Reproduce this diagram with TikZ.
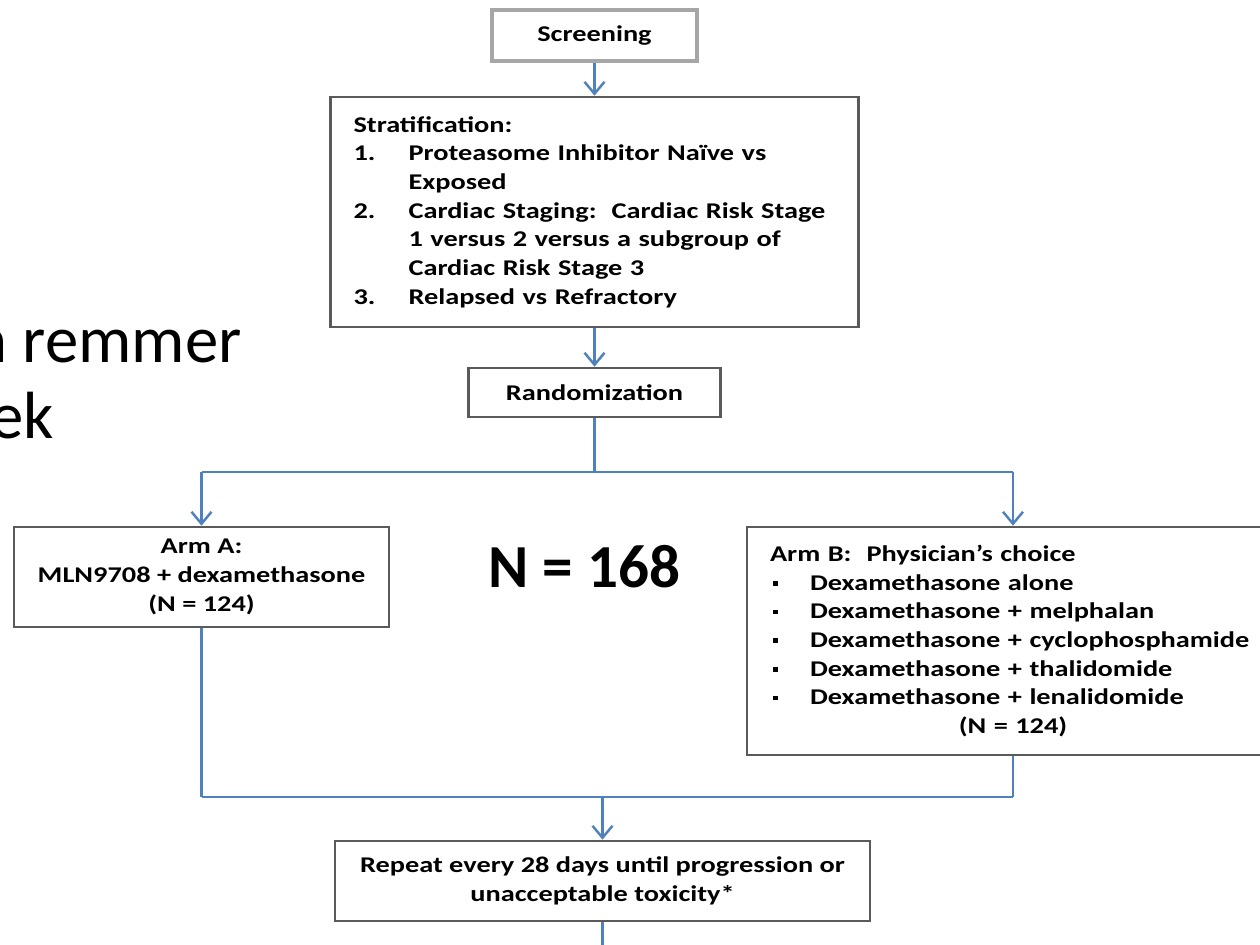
\documentclass[tikz,border=0pt]{standalone}
\usepackage{fontspec}
\setmainfont{Carlito}
\newfontfamily\boxfont{Carlito Bold}[FakeStretch=1.26]
\usetikzlibrary{arrows.meta}
\definecolor{armblue}{RGB}{79,129,189}
\definecolor{boxgray}{RGB}{90,90,90}
\definecolor{scrgray}{RGB}{166,166,166}
\newcommand\numcol[1]{\makebox[1.1cm][l]{#1}}
\newcommand\bul{\makebox[0.8cm][l]{\hspace{0.06cm}\raisebox{0.2em}{\rule{0.09cm}{0.09cm}}}}
\begin{document}
\begin{tikzpicture}[x=0.02cm, y=-0.02cm, every node/.style={font=\boxfont\fontsize{12.8pt}{16.3pt}\selectfont}]
  \tikzstyle{blk}=[draw=boxgray,line width=1.5pt,fill=white,inner sep=0pt,align=center]
  \tikzstyle{link}=[draw=armblue,line width=1.4pt]
  \tikzstyle{linkarr}=[-{Straight Barb[length=0.24cm,width=0.4cm]}]
  \useasboundingbox (0,0) rectangle (1260,944);
  \clip (0,0) rectangle (1260,944);
  % Screening, stratification, randomization
  \node[blk,draw=scrgray,line width=2pt,minimum width=4.1cm,minimum height=1.02cm] (scr) at (594.5,35.5) {Screening};
  \node[blk,minimum width=10.56cm,minimum height=4.6cm,text width=9.64cm,inner xsep=0.46cm,align=left] (strat) at (594.5,212) {Stratification:\\
    \numcol{1.}Proteasome Inhibitor Naïve vs\\
    \numcol{}Exposed\\
    \numcol{2.}Cardiac Staging:\ \ Cardiac Risk Stage\\
    \numcol{}1 versus 2 versus a subgroup of\\
    \numcol{}Cardiac Risk Stage 3\\
    \numcol{3.}Relapsed vs Refractory};
  \node[blk,minimum width=5.04cm,minimum height=0.98cm] (rand) at (594.5,392.5) {Randomization};
  % Arms
  \node[blk,minimum width=7.5cm,minimum height=2cm] (armA) at (201.5,577) {Arm A:\\MLN9708 + dexamethasone\\(N = 124)};
  \node[blk,minimum width=10.86cm,minimum height=4.56cm,text width=9.94cm,inner xsep=0.46cm,align=left] (armB) at (1018.5,641) {Arm B:\ \ Physician’s choice\\
    \bul Dexamethasone alone\\
    \bul Dexamethasone + melphalan\\
    \bul Dexamethasone + cyclophosphamide\\
    \bul Dexamethasone + thalidomide\\
    \bul Dexamethasone + lenalidomide\\
    \makebox[9.72cm][c]{(N = 124)}};
  \node[font=\bfseries\fontsize{34.8pt}{34.8pt}\selectfont,anchor=base,inner sep=0pt] (total) at (584.5,587) {N = 168};
  \node[blk,minimum width=10.7cm,minimum height=1.6cm] (rep) at (602.5,881) {Repeat every 28 days until progression or\\unacceptable toxicity*};
  % Slide text behind
  \node[font=\fontsize{38pt}{38pt}\selectfont,anchor=base east,inner sep=0pt] (note1) at (242,362) {n remmer};
  \node[font=\fontsize{38pt}{38pt}\selectfont,anchor=base east,inner sep=0pt] (note2) at (54,438) {ek};
  % Connectors
  \coordinate (split) at (594.5,472);
  \coordinate (jA) at (201.5,472);
  \coordinate (jB) at (1013,472);
  \coordinate (mA) at (201.5,797);
  \coordinate (mB) at (1013,797);
  \coordinate (cont) at (602.5,950);
  \draw[link,linkarr] (scr) -- (strat);
  \draw[link,linkarr] (strat) -- (rand);
  \draw[link] (rand) -- (split);
  \draw[link] (jA) -- (jB);
  \draw[link,linkarr] (jA) -- (armA);
  \draw[link,linkarr] (jB) -- (jB |- armB.north);
  \draw[link] (armA) -- (mA);
  \draw[link] (armB.south -| mB) -- (mB);
  \draw[link] (mA) -- (mB);
  \draw[link,linkarr] (rep.north |- mA) -- (rep);
  \draw[link] (rep) -- (cont);
\end{tikzpicture}
\end{document}
